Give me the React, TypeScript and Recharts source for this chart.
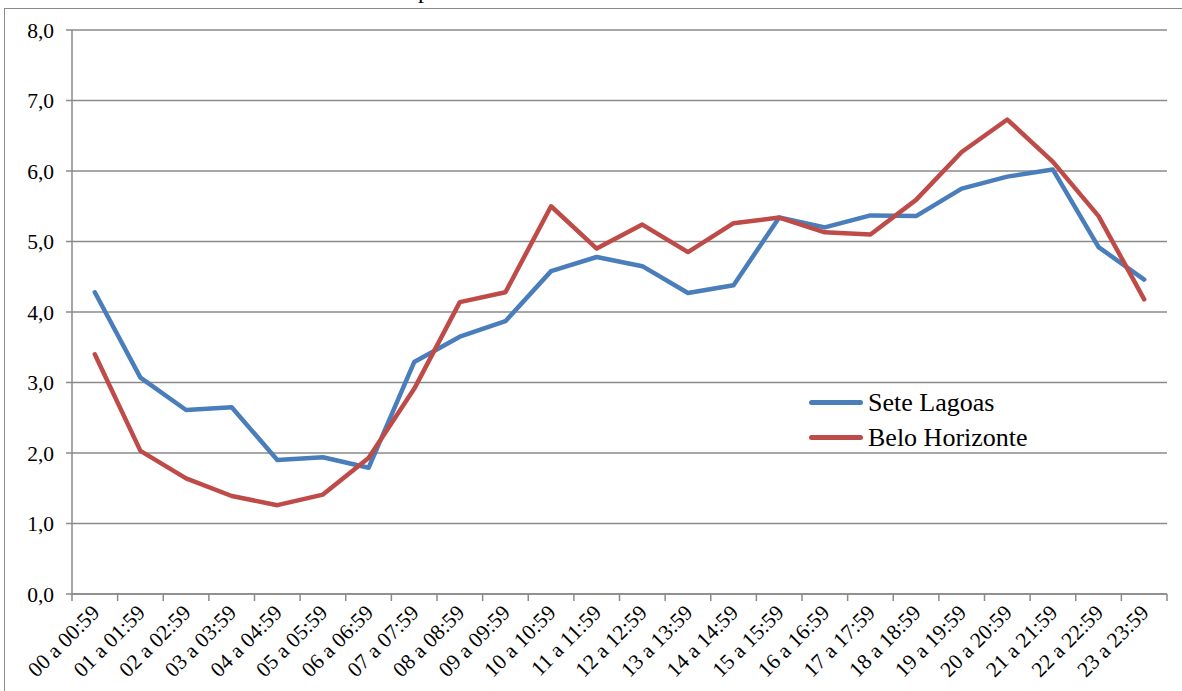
import { CartesianGrid, Line, LineChart, XAxis, YAxis } from "recharts";

const hours = [
  "00 a 00:59", "01 a 01:59", "02 a 02:59", "03 a 03:59", "04 a 04:59", "05 a 05:59",
  "06 a 06:59", "07 a 07:59", "08 a 08:59", "09 a 09:59", "10 a 10:59", "11 a 11:59",
  "12 a 12:59", "13 a 13:59", "14 a 14:59", "15 a 15:59", "16 a 16:59", "17 a 17:59",
  "18 a 18:59", "19 a 19:59", "20 a 20:59", "21 a 21:59", "22 a 22:59", "23 a 23:59",
];

const seteLagoas = [
  4.28, 3.07, 2.61, 2.65, 1.9, 1.94, 1.79, 3.29, 3.65, 3.87, 4.58, 4.78,
  4.65, 4.27, 4.38, 5.34, 5.2, 5.37, 5.36, 5.75, 5.92, 6.02, 4.92, 4.46,
];

const beloHorizonte = [
  3.4, 2.03, 1.64, 1.39, 1.26, 1.41, 1.93, 2.91, 4.14, 4.28, 5.5, 4.9,
  5.24, 4.85, 5.26, 5.34, 5.13, 5.1, 5.59, 6.27, 6.73, 6.13, 5.36, 4.18,
];

const yTicks = [0, 1, 2, 3, 4, 5, 6, 7, 8];

const rows = hours.map((h, i) => ({
  hora: h,
  sete: seteLagoas[i],
  bh: beloHorizonte[i],
}));

const W = 1182;
const H = 691;
const LEFT = 72;
const RIGHT = 15;
const BLUE = "#4a7ebb";
const RED = "#be4b48";
const GRID = "#8a8a8a";
const FONT = "'Liberation Serif', 'Times New Roman', serif";

const band = (W - LEFT - RIGHT) / hours.length;

function HourTick(props: any) {
  const { x, y, payload, index } = props;
  const last = index === hours.length - 1;
  const tx = x + 6;
  const ty = y + 12;
  return (
    <g>
      <line x1={x - band / 2} y1={y - 8} x2={x - band / 2} y2={y - 1} stroke={GRID} strokeWidth={1.5} />
      {last && (
        <line x1={x + band / 2} y1={y - 8} x2={x + band / 2} y2={y - 1} stroke={GRID} strokeWidth={1.5} />
      )}
      <text
        x={tx}
        y={ty}
        textAnchor="end"
        transform={`rotate(-45 ${tx} ${ty})`}
        fontFamily={FONT}
        fontSize={21.5}
        fill="#000"
      >
        {payload.value}
      </text>
    </g>
  );
}

function SeriesLegend() {
  const items = [
    { name: "Sete Lagoas", color: BLUE },
    { name: "Belo Horizonte", color: RED },
  ];
  return (
    <div style={{ position: "absolute", left: 809, top: 385 }}>
      {items.map((it) => (
        <div key={it.name} style={{ display: "flex", alignItems: "center", height: 35 }}>
          <div style={{ width: 54, height: 5, borderRadius: 3, background: it.color, marginRight: 5 }} />
          <span style={{ fontFamily: FONT, fontSize: 26, color: "#000", whiteSpace: "nowrap" }}>{it.name}</span>
        </div>
      ))}
    </div>
  );
}

export default function App() {
  return (
    <div style={{ position: "fixed", left: 0, top: 0, width: W, height: H, background: "#fff", overflow: "hidden" }}>
      <div
        style={{
          position: "absolute",
          left: 4,
          top: 8,
          width: W + 20,
          height: H + 20,
          borderLeft: `1.5px solid ${GRID}`,
          borderTop: `1.5px solid ${GRID}`,
        }}
      />
      <span
        style={{
          position: "absolute",
          left: 418,
          top: -25,
          fontFamily: FONT,
          fontSize: 24,
          lineHeight: "30px",
        }}
      >
        p
      </span>
      <div style={{ position: "absolute", left: 0, top: 0 }}>
        <LineChart width={W} height={H} data={rows} margin={{ top: 30, right: RIGHT, left: 0, bottom: 0 }}>
          <CartesianGrid vertical={false} stroke={GRID} strokeWidth={1.5} />
          <XAxis
            dataKey="hora"
            scale="band"
            interval={0}
            height={97}
            stroke={GRID}
            strokeWidth={1.5}
            tickLine={false}
            tick={<HourTick />}
          />
          <YAxis
            width={LEFT}
            domain={[0, 8]}
            ticks={yTicks}
            interval={0}
            stroke={GRID}
            strokeWidth={1.5}
            tickSize={6}
            tickMargin={12}
            tickFormatter={(v: number) => v.toFixed(1).replace(".", ",")}
            tick={{ fill: "#000", fontFamily: FONT, fontSize: 21.5 }}
          />
          <Line
            dataKey="sete"
            name="Sete Lagoas"
            stroke={BLUE}
            strokeWidth={4.5}
            strokeLinecap="round"
            strokeLinejoin="round"
            dot={false}
            activeDot={false}
            isAnimationActive={false}
          />
          <Line
            dataKey="bh"
            name="Belo Horizonte"
            stroke={RED}
            strokeWidth={4.5}
            strokeLinecap="round"
            strokeLinejoin="round"
            dot={false}
            activeDot={false}
            isAnimationActive={false}
          />
        </LineChart>
      </div>
      <SeriesLegend />
    </div>
  );
}
